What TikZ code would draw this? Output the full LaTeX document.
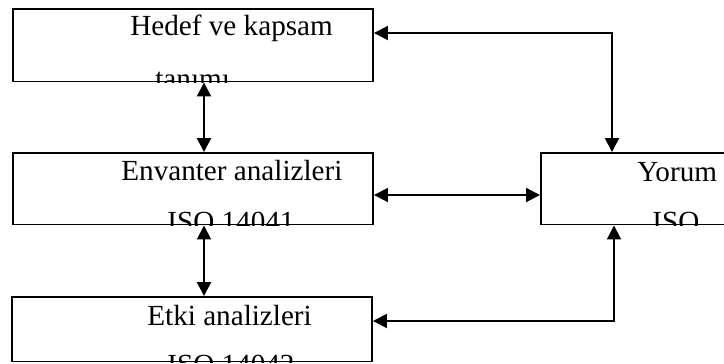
\documentclass[tikz,border=0pt]{standalone}
\usepackage{fontspec}
\setmainfont{Liberation Serif}
\usetikzlibrary{arrows.meta}

\begin{document}
\begin{tikzpicture}[
  box/.style={draw, line width=1.1pt, minimum width=7.2cm, minimum height=1.45cm, inner sep=0pt},
  lbl/.style={anchor=base west, inner sep=0pt, font=\fontsize{16.6}{20}\selectfont},
  link/.style={line width=1.1pt, {Triangle[length=0.28cm,width=0.28cm]}-{Triangle[length=0.28cm,width=0.28cm]}}
]
  \useasboundingbox (0, 0) rectangle (14.48, 7.26);

  % Hedef ve kapsam
  \node (hedef) at (3.86, 6.355) [box] {};
  \begin{scope}
    \clip (hedef.south west) rectangle (hedef.north east);
    \node (hedef1) at (2.6, 6.546) [lbl] {Hedef ve kapsam};
    \node (hedef2) at (3.1, 5.494) [lbl] {tanımı};
  \end{scope}

  % Envanter analizleri
  \node (envanter) at (3.86, 3.485) [box, minimum height=1.43cm] {};
  \begin{scope}
    \clip (envanter.south west) rectangle (envanter.north east);
    \node (envanter1) at (2.42, 3.646) [lbl] {Envanter analizleri};
    \node (envanter2) at (3.34, 2.64) [lbl] {ISO 14041};
  \end{scope}

  % Etki analizleri
  \node (etki) at (3.84, 0.675) [box, minimum height=1.29cm] {};
  \begin{scope}
    \clip (etki.south west) rectangle (etki.north east);
    \node (etki1) at (2.94, 0.76) [lbl] {Etki analizleri};
    \node (etki2) at (3.34, -0.22) [lbl] {ISO 14042};
  \end{scope}

  % Yorum (runs past the right edge)
  \node (yorum) at (14.42, 3.485) [box, minimum height=1.43cm] {};
  \begin{scope}
    \clip (yorum.south west) rectangle (yorum.north east);
    \node (yorum1) at (12.74, 3.64) [lbl] {Yorum};
    \node (yorum2) at (13.04, 2.64) [lbl] {ISO};
  \end{scope}

  % Arrows
  \draw[link] ([xshift=0.22cm]hedef.south) -- ([xshift=0.22cm]envanter.north);
  \draw[link] ([xshift=0.22cm]envanter.south) -- ([xshift=0.24cm]etki.north);
  \draw[link] ([yshift=-0.125cm]envanter.east) -- ([yshift=-0.125cm]yorum.west);
  \draw[link] ([yshift=0.245cm]hedef.east) -| ([xshift=-2.18cm]yorum.north);
  \draw[link] ([yshift=0.165cm]etki.east) -| ([xshift=-2.14cm]yorum.south);

\end{tikzpicture}
\end{document}
